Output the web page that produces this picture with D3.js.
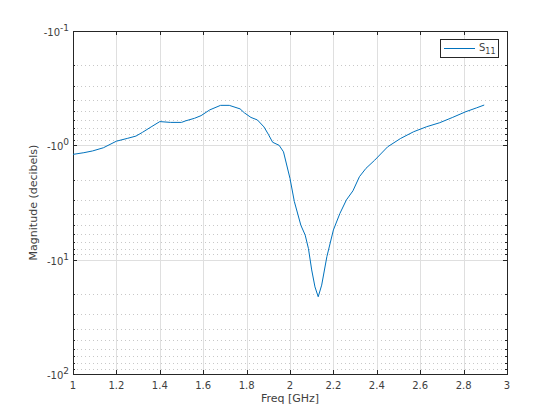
<!DOCTYPE html>
<html><head><meta charset="utf-8">
<script src="https://cdn.jsdelivr.net/npm/d3@7/dist/d3.min.js"></script>
<style>body{margin:0;background:#fff}svg{display:block}text{font-family:"DejaVu Sans",sans-serif}</style>
</head><body>
<svg id="c" width="560" height="420"></svg>
<script>
const freq = [1.00,1.05,1.09,1.14,1.20,1.25,1.29,1.32,1.36,1.40,1.45,1.50,1.52,1.56,1.59,1.63,1.68,1.72,1.77,1.79,1.82,1.85,1.88,1.90,1.92,1.95,1.97,2.00,2.02,2.05,2.07,2.085,2.10,2.115,2.13,2.146,2.17,2.20,2.23,2.26,2.29,2.32,2.35,2.39,2.45,2.51,2.57,2.63,2.69,2.75,2.81,2.86,2.895];
const s11 = [-1.20,-1.16,-1.12,-1.05,-0.92,-0.87,-0.83,-0.77,-0.69,-0.62,-0.63,-0.63,-0.61,-0.58,-0.55,-0.49,-0.447,-0.447,-0.48,-0.52,-0.57,-0.60,-0.69,-0.80,-0.94,-1.00,-1.14,-1.95,-3.1,-5.0,-6.1,-8.0,-12.3,-17.3,-21.1,-16.7,-9.4,-5.5,-3.94,-3.0,-2.5,-1.88,-1.59,-1.35,-1.03,-0.87,-0.76,-0.687,-0.634,-0.569,-0.508,-0.47,-0.444];
const xTicks = [1,1.2,1.4,1.6,1.8,2,2.2,2.4,2.6,2.8,3];
const yExps = [-1,0,1,2];

const svg = d3.select("#c");
const L=73, R=507, T=31, B=374;
const TXT = "#404040";
const x = d3.scaleLinear().domain([1,3]).range([L,R]);
// magnitude of negative dB on log scale, -0.1 at top, -100 at bottom
const ly = d3.scaleLog().domain([0.1,100]).range([T,B]);
const y = v => ly(-v);

const minor = [];
for (let e=-1;e<2;e++) for (let k=2;k<=9;k++) minor.push(k*Math.pow(10,e));

// grid
const g = svg.append("g");
g.selectAll(".mg").data(minor).enter().append("line")
 .attr("x1",L).attr("x2",R).attr("y1",d=>Math.round(ly(d))+0.5).attr("y2",d=>Math.round(ly(d))+0.5)
 .attr("stroke","#c8c8c8").attr("stroke-width",1).attr("stroke-dasharray","1,3");
g.selectAll(".xg").data(xTicks.slice(1,-1)).enter().append("line")
 .attr("x1",d=>Math.round(x(d))+0.5).attr("x2",d=>Math.round(x(d))+0.5).attr("y1",T).attr("y2",B)
 .attr("stroke","#dfdfdf").attr("stroke-width",1);
g.selectAll(".yg").data([1,10]).enter().append("line")
 .attr("x1",L).attr("x2",R).attr("y1",d=>Math.round(ly(d))+0.5).attr("y2",d=>Math.round(ly(d))+0.5)
 .attr("stroke","#dfdfdf").attr("stroke-width",1);

// box
svg.append("rect").attr("x",L+0.5).attr("y",T+0.5).attr("width",R-L).attr("height",B-T)
 .attr("fill","none").attr("stroke","#262626").attr("stroke-width",1);

// ticks
const tk = svg.append("g").attr("stroke","#262626").attr("stroke-width",1);
xTicks.forEach(d=>{const px=Math.round(x(d))+0.5;
 tk.append("line").attr("x1",px).attr("x2",px).attr("y1",B).attr("y2",B-4);
 tk.append("line").attr("x1",px).attr("x2",px).attr("y1",T).attr("y2",T+4);});
[0.1,1,10,100].forEach(d=>{const py=Math.round(ly(d))+0.5;
 tk.append("line").attr("x1",L).attr("x2",L+4).attr("y1",py).attr("y2",py);
 tk.append("line").attr("x1",R).attr("x2",R-4).attr("y1",py).attr("y2",py);});
minor.forEach(d=>{const py=Math.round(ly(d))+0.5;
 tk.append("line").attr("x1",L).attr("x2",L+2).attr("y1",py).attr("y2",py);
 tk.append("line").attr("x1",R).attr("x2",R-2).attr("y1",py).attr("y2",py);});

// tick labels
svg.append("g").selectAll("text").data(xTicks).enter().append("text")
 .attr("x",d=>x(d)).attr("y",B+15).attr("text-anchor","middle")
 .attr("font-size",10).attr("fill",TXT).text(d=>d3.format("~g")(d));
const yl = svg.append("g");
yExps.forEach(e=>{
 const t = yl.append("text").attr("x",L-4).attr("y",ly(Math.pow(10,e))+5).attr("text-anchor","end")
  .attr("font-size",10).attr("fill",TXT);
 t.append("tspan").text("-10");
 t.append("tspan").attr("dy",-5).attr("font-size",9).text(String(e));
});

// axis labels
svg.append("text").attr("x",(L+R)/2).attr("y",402).attr("text-anchor","middle")
 .attr("font-size",11).attr("fill",TXT).text("Freq [GHz]");
svg.append("text").attr("transform",`translate(37,${(T+B)/2}) rotate(-90)`).attr("text-anchor","middle")
 .attr("font-size",11).attr("fill",TXT).text("Magnitude (decibels)");

// line
const line = d3.line().x((d,i)=>x(freq[i])).y(d=>y(d));
svg.append("path").datum(s11).attr("d",line).attr("fill","none")
 .attr("stroke","#0072BD").attr("stroke-width",1);

// legend
const lg = svg.append("g");
lg.append("rect").attr("x",440.5).attr("y",39.5).attr("width",58).attr("height",18)
 .attr("fill","#fff").attr("stroke","#262626").attr("stroke-width",1);
lg.append("line").attr("x1",444).attr("x2",475).attr("y1",48.5).attr("y2",48.5)
 .attr("stroke","#0072BD").attr("stroke-width",1);
const lt = lg.append("text").attr("x",479).attr("y",51).attr("font-size",10).attr("fill",TXT);
lt.append("tspan").text("S");
lt.append("tspan").attr("dy",3).attr("font-size",8).text("11");
</script>
</body></html>
